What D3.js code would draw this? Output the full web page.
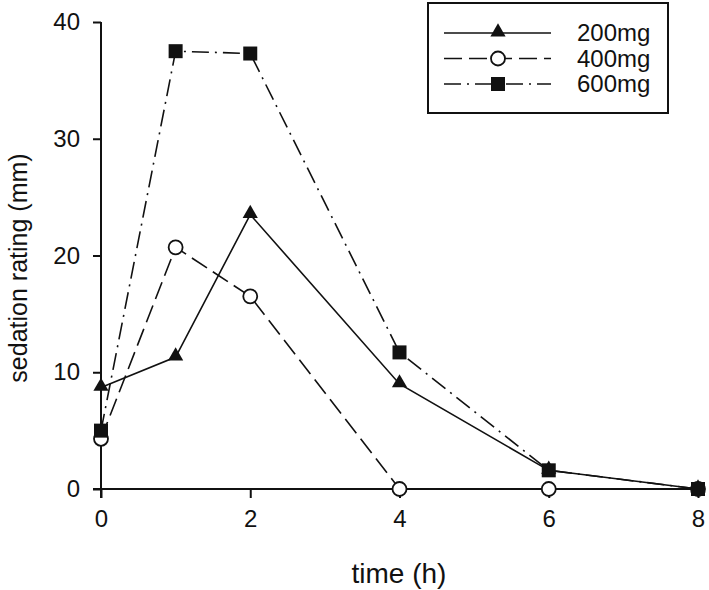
<!DOCTYPE html>
<html>
<head>
<meta charset="utf-8">
<script src="https://d3js.org/d3.v7.min.js"></script>
<style>
    body { margin: 0; background: #fff; }
    text { font-family: "Liberation Sans", Arial, sans-serif; fill: #111; }
</style>
</head>
<body>
<svg id="SVG_CONTAINER" width="709" height="590"></svg>
<script>
// data
const times = [0, 1, 2, 4, 6, 8];
const dose200 = [8.7, 11.3, 23.5, 9.0, 1.6, 0];
const dose400 = [4.3, 20.7, 16.5, 0, 0, 0];
const dose600 = [5.0, 37.5, 37.3, 11.7, 1.6, 0];
const seriesNames = ["200mg", "400mg", "600mg"];
const xTicks = [0, 2, 4, 6, 8];
const yTicks = [0, 10, 20, 30, 40];

const width = 709, height = 590;

let svg = d3.select("#SVG_CONTAINER");

//** SCALES *****************************************
let xScale = d3.scaleLinear().domain([0, 8]).range([101, 698]);
let yScale = d3.scaleLinear().domain([0, 40]).range([489, 22]);

//** AXES *****************************************
let xAxis = d3.axisBottom(xScale).tickValues(xTicks).tickSizeInner(9).tickSizeOuter(0).tickPadding(12);
let yAxis = d3.axisLeft(yScale).tickValues(yTicks).tickSizeInner(8).tickSizeOuter(0).tickPadding(13);

let gx = svg.append("g")
    .attr("transform", "translate(0," + yScale(0) + ")")
    .call(xAxis);
let gy = svg.append("g")
    .attr("transform", "translate(" + xScale(0) + ",0)")
    .call(yAxis);

[gx, gy].forEach(function (g) {
    g.selectAll("path, line").attr("stroke", "#111").attr("stroke-width", 2);
    g.selectAll("text").style("font-size", "24px").attr("fill", "#111");
});
gx.select(".domain").attr("d", "M" + (xScale(0) - 8) + ",0H" + xScale(8));
gy.select(".domain").attr("d", "M0," + (yScale(0) + 9) + "V" + yScale(40));

// axis titles
svg.append("text")
    .attr("x", 399).attr("y", 583)
    .attr("text-anchor", "middle")
    .style("font-size", "28px")
    .text("time (h)");

svg.append("text")
    .attr("transform", "translate(27,268) rotate(-90)")
    .attr("text-anchor", "middle")
    .style("font-size", "25px")
    .text("sedation rating (mm)");

//** SERIES *****************************************
const series = [
    {name: seriesNames[0], values: dose200, dash: null, marker: "triangle"},
    {name: seriesNames[1], values: dose400, dash: "18,7", marker: "circle"},
    {name: seriesNames[2], values: dose600, dash: "17,6,2,6", marker: "square"}
];

function drawMarker(g, type, x, y) {
    if (type === "triangle") {
        g.append("path")
            .attr("d", d3.symbol().type(d3.symbolTriangle).size(100)())
            .attr("transform", "translate(" + x + "," + (y - 1) + ")")
            .attr("fill", "#111");
    } else if (type === "circle") {
        g.append("circle")
            .attr("cx", x).attr("cy", y).attr("r", 7)
            .attr("fill", "#fff").attr("stroke", "#111").attr("stroke-width", 1.8);
    } else {
        g.append("rect")
            .attr("x", x - 7).attr("y", y - 7).attr("width", 14).attr("height", 14)
            .attr("fill", "#111");
    }
}

let line = d3.line()
    .x(function (d, i) { return xScale(times[i]); })
    .y(function (d) { return yScale(d); });

let lines = svg.append("g").attr("class", "lines");
series.forEach(function (s) {
    lines.append("path")
        .datum(s.values)
        .attr("d", line)
        .attr("fill", "none")
        .attr("stroke", "#111")
        .attr("stroke-width", 1.6)
        .attr("stroke-dasharray", s.dash);
});

let markers = svg.append("g").attr("class", "markers");
series.forEach(function (s) {
    s.values.forEach(function (v, i) {
        drawMarker(markers, s.marker, xScale(times[i]), yScale(v));
    });
});

//** LEGEND *****************************************
let legend = svg.append("g").attr("class", "legend");
legend.append("rect")
    .attr("x", 428).attr("y", 3)
    .attr("width", 240).attr("height", 110)
    .attr("fill", "#fff")
    .attr("stroke", "#111")
    .attr("stroke-width", 2);

let yLegend = 33;
series.forEach(function (s) {
    legend.append("line")
        .attr("x1", 444).attr("x2", 551)
        .attr("y1", yLegend).attr("y2", yLegend)
        .attr("stroke", "#111")
        .attr("stroke-width", 1.6)
        .attr("stroke-dasharray", s.dash);
    drawMarker(legend, s.marker, 498, yLegend);
    legend.append("text")
        .attr("x", 577).attr("y", yLegend + 8)
        .style("font-size", "24px")
        .text(s.name);
    yLegend += 25.5;
});
</script>
</body>
</html>
